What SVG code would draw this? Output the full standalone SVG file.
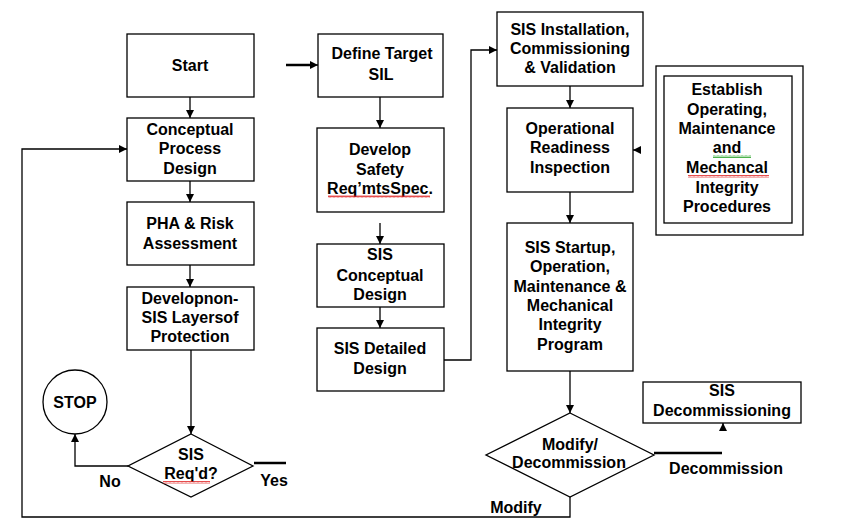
<svg xmlns="http://www.w3.org/2000/svg" width="850" height="531" viewBox="0 0 850 531">
<defs>
<marker id="ah" viewBox="0 0 10 10" refX="10" refY="5" markerWidth="8" markerHeight="8" markerUnits="userSpaceOnUse" orient="auto">
<path d="M0,0 L10,5 L0,10 z" fill="#000"/>
</marker>
<pattern id="sqr" width="4" height="3" patternUnits="userSpaceOnUse">
<path d="M0,2.5 L1,0.5 L2,2.5 L3,0.5 L4,2.5" fill="none" stroke="#e02020" stroke-width="0.8"/>
</pattern>
<pattern id="sqg" width="4" height="3" patternUnits="userSpaceOnUse">
<path d="M0,2.5 L1,0.5 L2,2.5 L3,0.5 L4,2.5" fill="none" stroke="#20a020" stroke-width="0.8"/>
</pattern>
</defs>
<style>
.b{fill:#fff;stroke:#000;stroke-width:1.3}
.t{font-family:"Liberation Sans",Arial,sans-serif;font-weight:bold;font-size:16px;fill:#000;text-anchor:middle}
.c{fill:none;stroke:#000;stroke-width:1.3}
.k{fill:none;stroke:#000;stroke-width:2.5}
</style>
<rect width="850" height="531" fill="#fff"/>

<g id="connectors">
<path class="c" d="M190,97 V118" marker-end="url(#ah)"/>
<path class="c" d="M190,181 V202" marker-end="url(#ah)"/>
<path class="c" d="M190,265 V287" marker-end="url(#ah)"/>
<path class="c" d="M191,350 V434" marker-end="url(#ah)"/>
<path class="c" d="M128,466 H75 V434" marker-end="url(#ah)"/>
<path class="k" d="M254,463 H286"/>
<path class="k" d="M286,65 H310"/>
<path class="c" d="M310,65 H318" marker-end="url(#ah)"/>
<path class="c" d="M380,97 V128" marker-end="url(#ah)"/>
<path class="c" d="M380,223 V244" marker-end="url(#ah)"/>
<path class="c" d="M380,307 V328" marker-end="url(#ah)"/>
<path class="c" d="M444,360 H471 V50 H497" marker-end="url(#ah)"/>
<path class="c" d="M570,86 V108" marker-end="url(#ah)"/>
<path class="c" d="M570,192 V223" marker-end="url(#ah)"/>
<path class="c" d="M641,150 H633" marker-end="url(#ah)"/>
<path class="c" d="M570,371 V413" marker-end="url(#ah)"/>
<path class="k" d="M654,453 H722"/>
<path class="c" d="M723,431 V423" marker-end="url(#ah)"/>
<path class="c" d="M570,497 V517 H22 V149 H127" marker-end="url(#ah)"/>
</g>

<g id="start"><rect class="b" x="127" y="34" width="127" height="63"/><text class="t" x="190" y="71">Start</text></g>
<g id="conceptual-process-design"><rect class="b" x="127" y="118" width="127" height="63"/><text class="t" x="190" y="135">Conceptual</text><text class="t" x="190" y="154">Process</text><text class="t" x="190" y="174">Design</text></g>
<g id="pha"><rect class="b" x="127" y="202" width="127" height="63"/><text class="t" x="190" y="229">PHA &amp; Risk</text><text class="t" x="190" y="249">Assessment</text></g>
<g id="non-sis"><rect class="b" x="127" y="287" width="127" height="63"/><text class="t" x="190" y="304">Developnon-</text><text class="t" x="190" y="323">SIS Layersof</text><text class="t" x="190" y="342">Protection</text></g>
<g id="sis-reqd"><path class="b" d="M191,434 L253,466 L191,497 L128,466 z"/><text class="t" x="191" y="460">SIS</text><text class="t" x="191" y="479">Req'd?</text><rect x="163" y="481" width="47" height="3" fill="url(#sqr)"/></g>
<g id="stop"><circle class="b" cx="75" cy="402" r="32"/><text class="t" x="75" y="408">STOP</text></g>
<g id="labels-no-yes"><text class="t" x="110" y="487">No</text><text class="t" x="274" y="486">Yes</text></g>

<g id="define-target-sil"><rect class="b" x="318" y="34" width="125" height="63"/><text class="t" x="382" y="59">Define Target</text><text class="t" x="381" y="80">SIL</text></g>
<g id="develop-srs"><rect class="b" x="317" y="128" width="127" height="84"/><text class="t" x="380" y="155">Develop</text><text class="t" x="380" y="175">Safety</text><text class="t" x="380" y="194">Req’mtsSpec.</text><rect x="328" y="195" width="102" height="3" fill="url(#sqr)"/></g>
<g id="sis-conceptual-design"><rect class="b" x="317" y="244" width="127" height="63"/><text class="t" x="380" y="260">SIS</text><text class="t" x="380" y="281">Conceptual</text><text class="t" x="380" y="300">Design</text></g>
<g id="sis-detailed-design"><rect class="b" x="317" y="328" width="127" height="63"/><text class="t" x="380" y="354">SIS Detailed</text><text class="t" x="380" y="374">Design</text></g>

<g id="sis-installation"><rect class="b" x="497" y="12" width="146" height="74"/><text class="t" x="570" y="35">SIS Installation,</text><text class="t" x="570" y="54">Commissioning</text><text class="t" x="570" y="73">&amp; Validation</text></g>
<g id="operational-readiness"><rect class="b" x="507" y="108" width="126" height="84"/><text class="t" x="570" y="134">Operational</text><text class="t" x="570" y="153">Readiness</text><text class="t" x="570" y="173">Inspection</text></g>
<g id="establish-procedures"><rect class="b" x="656" y="66" width="147" height="169"/><rect class="b" x="664" y="76" width="128" height="147"/><text class="t" x="727" y="95">Establish</text><text class="t" x="727" y="115">Operating,</text><text class="t" x="727" y="134">Maintenance</text><text class="t" x="727" y="153">and</text><rect x="713" y="155" width="38" height="3" fill="url(#sqg)"/><text class="t" x="727" y="173">Mechancal</text><rect x="688" y="175" width="81" height="3" fill="url(#sqr)"/><text class="t" x="727" y="193">Integrity</text><text class="t" x="727" y="212">Procedures</text></g>
<g id="sis-startup"><rect class="b" x="507" y="223" width="126" height="148"/><text class="t" x="570" y="253">SIS Startup,</text><text class="t" x="570" y="272">Operation,</text><text class="t" x="570" y="292">Maintenance &amp;</text><text class="t" x="570" y="311">Mechanical</text><text class="t" x="570" y="330">Integrity</text><text class="t" x="570" y="350">Program</text></g>
<g id="modify-decommission"><path class="b" d="M570,413 L654,455 L570,497 L486,455 z"/><text class="t" x="570" y="450">Modify/</text><text class="t" x="569" y="468">Decommission</text></g>
<g id="sis-decommissioning"><rect class="b" x="643" y="382" width="158" height="41"/><text class="t" x="722" y="396">SIS</text><text class="t" x="722" y="416">Decommissioning</text></g>
<g id="labels-modify-decommission"><text class="t" x="726" y="474">Decommission</text><text class="t" x="516" y="513">Modify</text></g>
</svg>
